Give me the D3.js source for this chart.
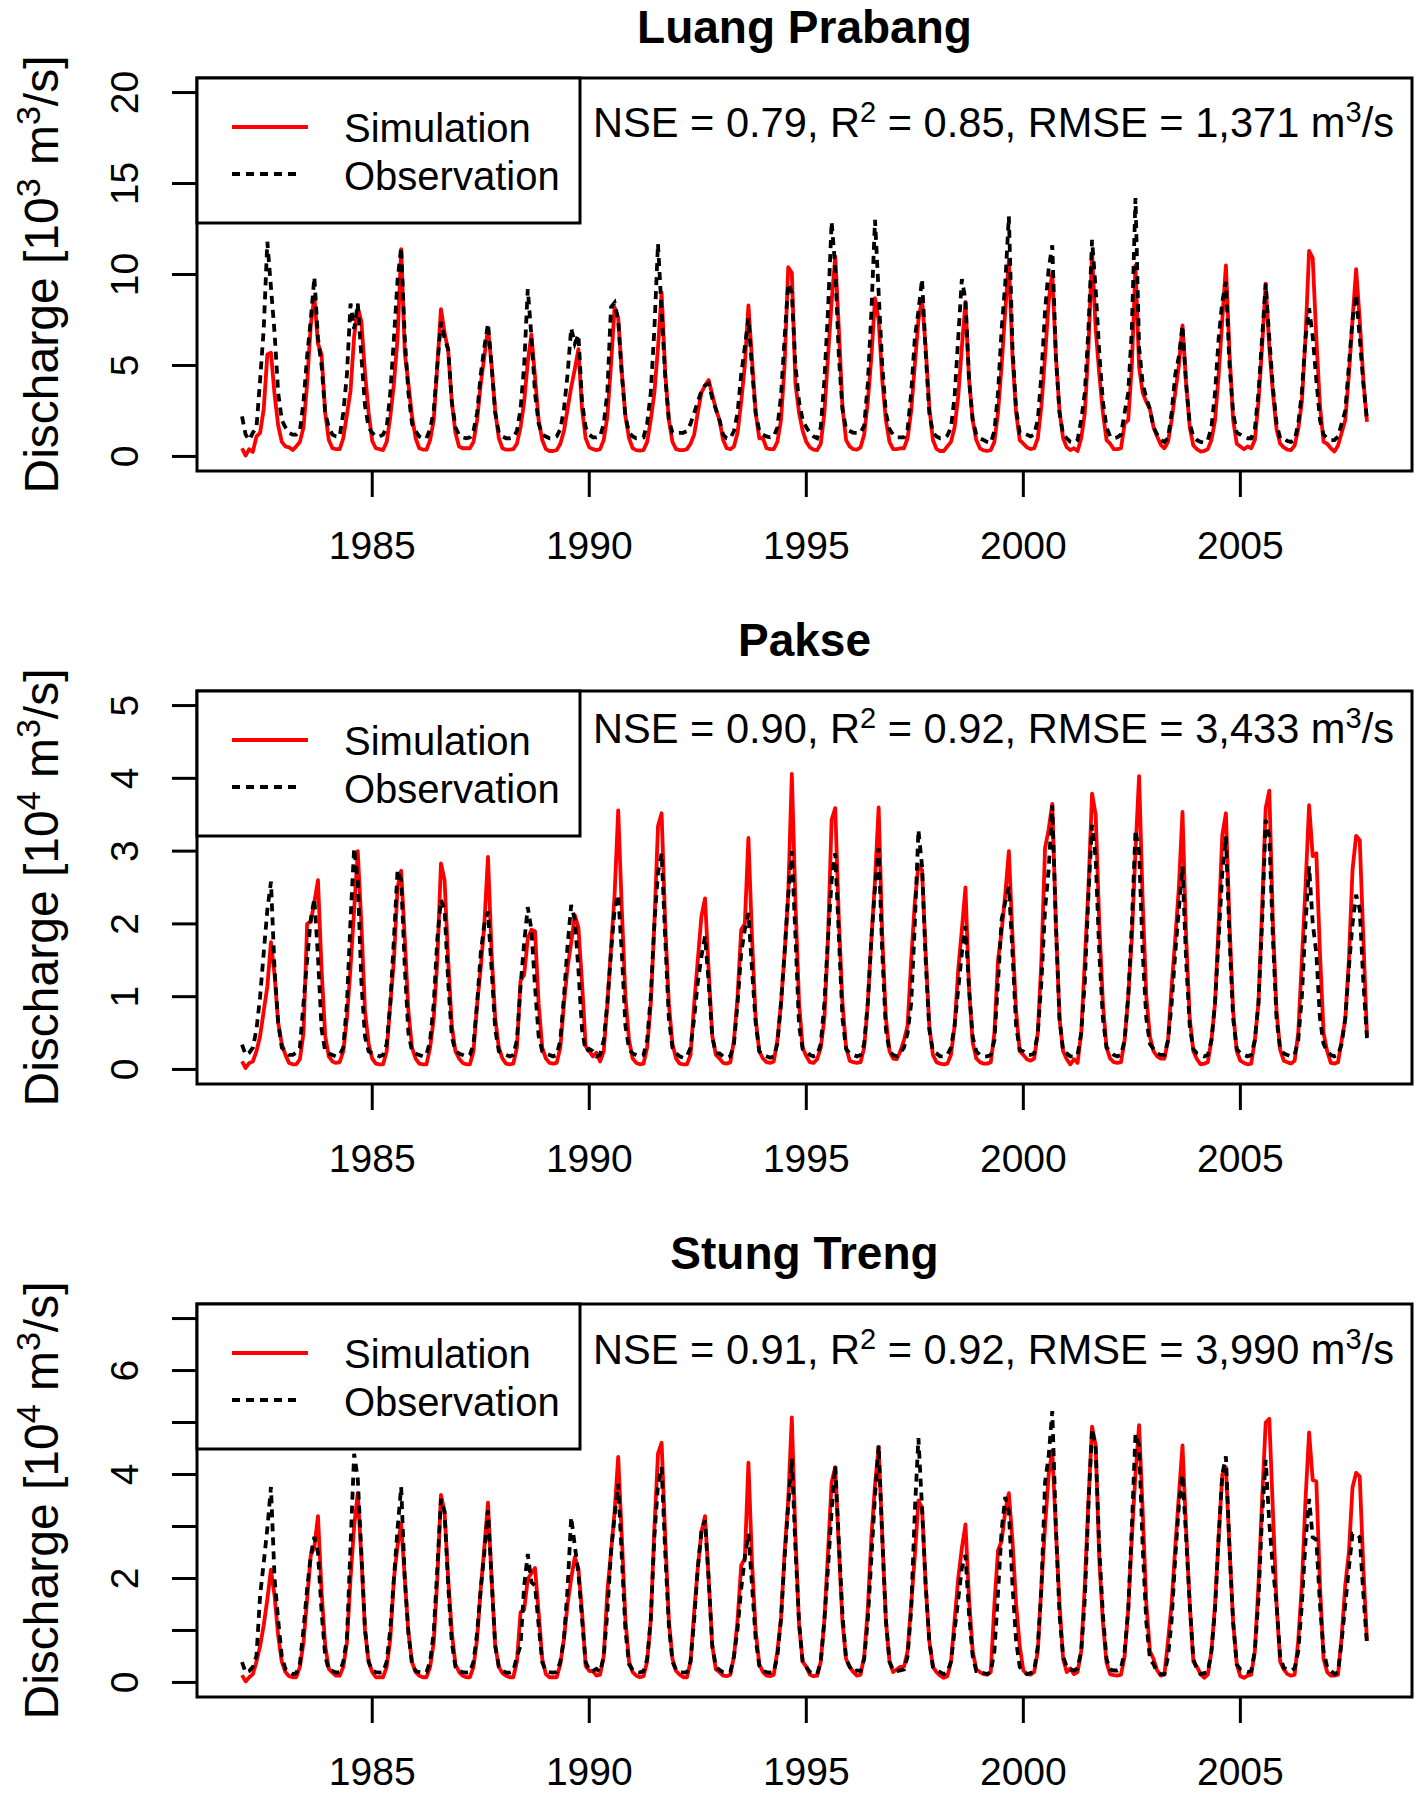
<!DOCTYPE html>
<html><head><meta charset="utf-8">
<script src="https://cdn.jsdelivr.net/npm/d3@7"></script>
<style>body{margin:0;background:#fff}</style>
</head><body>
<script>
// ---------------- DATA ----------------
const startYear = 1982; // monthly series Jan 1982 .. Dec 2007
const xTickYears = [1985, 1990, 1995, 2000, 2005];
const panelTitles = ["Luang Prabang", "Pakse", "Stung Treng"];
const unitExponents = ["3", "4", "4"];
const yTicks = [[0, 5, 10, 15, 20], [0, 1, 2, 3, 4, 5], [0, 1, 2, 3, 4, 5, 6, 7]];
const yTickLabels = [[0, 5, 10, 15, 20], [0, 1, 2, 3, 4, 5], [0, 2, 4, 6]];
const nseVals = ["0.79", "0.90", "0.91"];
const r2Vals = ["0.85", "0.92", "0.92"];
const rmseVals = ["1,371", "3,433", "3,990"];
const legendLabels = ["Simulation", "Observation"];

// Luang Prabang [10^3 m3/s], one row per year (Jan..Dec)
const lpSim = [
[0.45,0.05,0.40,0.25,1.10,1.30,2.60,5.60,5.70,3.40,1.70,0.80],
[0.55,0.50,0.35,0.55,0.80,1.60,4.00,7.20,8.80,6.20,5.60,2.40],
[0.90,0.45,0.40,0.40,1.00,2.30,3.60,6.60,8.20,7.40,4.60,2.40],
[0.85,0.45,0.40,0.35,0.80,2.20,4.00,6.50,11.40,5.70,4.00,2.20],
[1.00,0.45,0.38,0.37,0.90,2.00,5.00,8.10,6.80,5.80,3.00,1.30],
[0.55,0.45,0.45,0.45,0.80,2.00,4.00,5.50,7.05,5.00,2.50,1.00],
[0.45,0.37,0.37,0.40,0.70,1.60,3.00,5.20,6.70,4.40,2.00,0.90],
[0.40,0.30,0.30,0.35,0.70,1.40,2.60,3.80,4.80,5.90,2.60,1.00],
[0.50,0.40,0.35,0.40,0.90,2.20,5.00,8.20,7.60,4.60,2.20,1.00],
[0.45,0.35,0.32,0.35,0.80,2.00,3.50,6.00,9.00,4.60,2.00,0.80],
[0.40,0.35,0.35,0.40,0.70,1.20,2.40,3.50,3.90,4.20,3.40,2.60],
[2.00,0.90,0.45,0.40,0.55,1.30,3.00,5.00,8.30,5.30,2.40,1.00],
[1.00,0.45,0.40,0.40,0.80,2.00,5.00,10.40,10.10,4.00,2.40,1.40],
[0.80,0.50,0.38,0.35,0.70,2.40,5.50,8.50,11.00,7.00,2.70,0.90],
[0.55,0.40,0.37,0.50,1.20,3.00,5.50,8.70,7.50,4.20,2.00,0.80],
[0.40,0.40,0.45,0.45,1.00,2.50,5.00,7.50,8.65,6.00,2.70,0.90],
[0.40,0.30,0.30,0.55,0.80,1.60,3.30,6.00,8.50,4.20,2.00,0.90],
[0.45,0.33,0.30,0.35,0.80,2.40,5.00,8.00,10.80,5.50,2.40,0.90],
[0.70,0.50,0.40,0.45,1.00,2.80,5.50,8.50,10.10,5.50,2.50,1.00],
[0.50,0.35,0.45,0.30,1.00,2.40,6.00,11.20,7.00,4.50,2.40,0.90],
[0.70,0.40,0.40,0.45,1.80,2.00,5.00,10.50,4.90,3.50,3.00,2.60],
[1.60,1.10,0.64,0.45,0.80,2.00,3.50,5.00,7.20,4.00,1.60,0.60],
[0.40,0.27,0.30,0.40,0.90,2.00,4.50,7.50,10.50,5.70,2.00,0.70],
[0.55,0.40,0.55,0.45,0.90,3.00,6.00,9.50,6.00,3.50,1.50,0.70],
[0.50,0.37,0.35,0.60,1.50,3.00,6.50,11.30,10.90,6.50,2.80,0.80],
[0.70,0.45,0.27,0.60,1.30,2.00,4.50,7.50,10.30,7.50,4.20,1.90]
].flat();
const lpObs = [
[2.20,1.20,0.90,1.30,1.60,4.20,7.00,11.80,9.30,6.80,3.50,2.00],
[1.60,1.30,1.20,1.20,1.40,3.00,5.50,7.50,9.85,6.50,5.00,2.40],
[1.60,1.20,1.10,1.10,2.40,4.50,8.40,7.00,8.40,5.50,2.80,1.60],
[1.30,1.10,1.10,1.20,1.60,3.50,6.50,9.70,11.50,6.50,3.50,1.80],
[1.40,1.10,1.00,1.00,1.50,2.50,5.00,7.40,6.50,5.90,3.00,1.60],
[1.20,1.05,1.00,1.05,1.40,2.40,4.50,6.00,7.30,5.00,2.40,1.30],
[1.10,1.00,1.00,1.05,1.40,2.60,5.00,9.20,6.60,3.50,1.80,1.20],
[1.10,1.00,1.00,1.10,1.50,2.60,4.50,7.05,6.20,6.70,3.00,1.60],
[1.20,1.05,1.05,1.10,1.80,3.50,8.20,8.45,7.50,4.50,2.20,1.30],
[1.10,1.00,1.00,1.05,1.80,3.50,7.00,11.70,8.00,4.40,2.00,1.30],
[1.30,1.30,1.30,1.40,1.80,2.40,3.00,3.60,3.90,4.00,3.20,2.60],
[2.00,1.20,1.00,1.00,1.40,2.40,4.50,6.00,7.60,4.80,2.40,1.40],
[1.20,1.10,1.05,1.10,1.60,3.30,6.50,9.50,9.00,5.00,3.00,2.00],
[1.60,1.30,1.10,1.00,1.60,4.20,8.00,12.90,10.40,5.50,2.60,1.50],
[1.40,1.30,1.30,1.30,1.70,4.00,8.00,13.00,9.00,5.00,2.40,1.50],
[1.20,1.05,1.05,1.05,1.50,3.50,6.50,8.00,9.75,5.70,2.40,1.30],
[1.10,1.00,1.00,1.15,1.60,3.30,6.50,9.75,8.60,4.20,2.00,1.20],
[1.00,0.90,0.80,0.75,1.40,3.50,7.00,9.50,13.20,6.00,2.60,1.30],
[1.30,1.20,1.10,1.20,2.00,4.50,8.00,10.30,11.60,5.50,2.40,1.20],
[1.00,0.80,0.75,0.90,2.00,3.50,7.00,11.90,9.20,5.70,3.00,1.60],
[1.10,1.00,1.05,1.20,2.40,3.50,7.00,14.20,6.00,4.00,3.20,2.60],
[1.60,1.20,0.90,0.80,1.00,2.40,4.50,5.50,7.20,4.00,1.80,1.10],
[0.90,0.80,0.75,0.90,1.60,3.50,6.50,8.50,9.60,5.00,2.40,1.30],
[1.20,1.05,1.00,1.00,1.50,3.50,6.50,9.50,6.50,3.80,1.80,1.00],
[1.00,0.85,0.80,0.90,1.80,3.50,6.50,8.15,6.60,4.20,2.00,1.20],
[1.00,0.90,0.90,1.10,1.80,2.50,5.00,7.50,8.90,6.50,4.00,2.00]
].flat();

// Pakse [10^4 m3/s]
const pkSim = [
[0.11,0.02,0.09,0.11,0.25,0.46,0.80,1.14,1.75,1.30,0.64,0.35],
[0.20,0.09,0.07,0.07,0.14,0.50,2.00,2.03,2.30,2.60,1.37,0.46],
[0.18,0.11,0.09,0.10,0.25,0.70,1.40,2.20,3.00,2.00,0.80,0.35],
[0.15,0.08,0.07,0.07,0.25,0.90,1.50,2.50,2.73,1.80,0.80,0.30],
[0.15,0.08,0.07,0.07,0.30,0.70,1.50,2.83,2.60,1.50,0.60,0.25],
[0.15,0.09,0.07,0.07,0.25,0.90,1.40,2.00,2.92,1.60,0.70,0.30],
[0.15,0.08,0.07,0.08,0.30,1.22,1.30,1.80,1.92,1.90,0.90,0.30],
[0.15,0.09,0.08,0.09,0.30,0.90,1.40,1.74,2.12,1.95,1.19,0.32],
[0.25,0.18,0.23,0.11,0.25,0.90,1.65,2.40,3.56,2.20,1.00,0.40],
[0.15,0.09,0.07,0.08,0.30,0.90,2.00,3.34,3.52,2.00,0.90,0.35],
[0.15,0.08,0.07,0.07,0.20,0.90,1.50,2.10,2.35,1.37,0.46,0.20],
[0.15,0.09,0.08,0.10,0.40,1.00,1.92,2.00,3.18,1.80,0.70,0.25],
[0.15,0.10,0.09,0.11,0.40,0.90,1.60,2.40,4.06,2.30,0.91,0.30],
[0.18,0.10,0.09,0.14,0.30,0.70,1.80,3.43,3.59,2.06,0.91,0.30],
[0.12,0.10,0.09,0.10,0.30,0.91,1.80,2.60,3.60,1.83,0.70,0.25],
[0.15,0.14,0.25,0.40,0.60,1.50,2.30,2.81,2.74,1.60,0.60,0.20],
[0.10,0.08,0.07,0.08,0.20,0.60,1.37,1.92,2.50,1.10,0.37,0.15],
[0.10,0.08,0.08,0.10,0.50,1.50,1.90,2.40,3.00,1.83,0.80,0.25],
[0.20,0.14,0.12,0.15,0.50,1.50,3.04,3.30,3.65,2.00,0.70,0.25],
[0.14,0.07,0.14,0.09,0.50,1.50,2.50,3.79,3.50,2.00,0.91,0.30],
[0.15,0.10,0.09,0.10,0.40,1.00,1.80,3.00,4.03,2.30,1.00,0.45],
[0.25,0.18,0.15,0.15,0.40,1.14,1.80,2.50,3.54,1.83,0.70,0.25],
[0.14,0.07,0.08,0.10,0.40,0.91,2.00,3.22,3.52,2.00,0.80,0.25],
[0.12,0.09,0.07,0.08,0.40,0.91,2.20,3.59,3.83,2.00,0.80,0.27],
[0.12,0.10,0.08,0.12,0.50,1.50,2.50,3.63,2.93,2.97,1.60,0.50],
[0.25,0.09,0.08,0.10,0.40,0.69,1.50,2.74,3.21,3.15,1.80,0.46]
].flat();
const pkObs = [
[0.34,0.20,0.23,0.30,0.55,1.00,1.60,2.19,2.58,1.37,0.64,0.30],
[0.25,0.20,0.20,0.23,0.30,0.91,1.50,2.06,2.35,1.55,0.55,0.25],
[0.22,0.20,0.18,0.20,0.30,0.90,2.06,3.04,2.60,1.20,0.45,0.25],
[0.22,0.20,0.18,0.20,0.35,0.91,1.80,2.74,2.60,1.40,0.50,0.25],
[0.22,0.20,0.18,0.20,0.40,0.90,1.80,2.33,2.20,1.20,0.45,0.25],
[0.22,0.20,0.18,0.20,0.35,0.91,1.60,2.00,2.17,1.37,0.55,0.25],
[0.22,0.20,0.18,0.20,0.40,1.14,1.74,2.23,1.92,1.14,0.46,0.25],
[0.22,0.20,0.18,0.20,0.40,1.00,1.70,2.26,2.06,1.37,0.55,0.25],
[0.28,0.25,0.18,0.20,0.40,0.91,1.60,2.20,2.40,1.60,0.60,0.28],
[0.22,0.20,0.18,0.20,0.40,1.00,2.00,2.70,2.97,1.80,0.70,0.30],
[0.22,0.18,0.16,0.18,0.30,0.70,1.20,1.55,1.83,1.20,0.45,0.22],
[0.22,0.18,0.16,0.18,0.35,0.91,1.60,1.92,2.15,1.37,0.64,0.25],
[0.20,0.18,0.16,0.18,0.35,0.91,1.60,2.40,3.00,1.83,0.60,0.28],
[0.25,0.20,0.18,0.20,0.35,0.91,1.80,2.60,2.97,1.83,0.70,0.28],
[0.22,0.20,0.18,0.20,0.35,0.91,1.80,2.50,3.04,1.60,0.55,0.25],
[0.20,0.18,0.23,0.30,0.50,0.91,2.00,3.29,2.79,1.50,0.55,0.25],
[0.22,0.18,0.18,0.20,0.30,0.60,1.10,1.60,1.97,1.10,0.45,0.25],
[0.20,0.18,0.18,0.20,0.40,1.20,2.06,2.30,2.51,1.60,0.60,0.27],
[0.25,0.20,0.20,0.22,0.50,1.20,2.20,2.74,3.63,2.00,0.70,0.25],
[0.22,0.18,0.18,0.20,0.50,1.20,2.40,3.36,2.90,1.60,0.70,0.30],
[0.25,0.20,0.18,0.20,0.40,1.00,2.00,3.29,3.00,1.60,0.70,0.35],
[0.28,0.22,0.20,0.20,0.40,0.90,1.60,2.20,2.79,1.50,0.60,0.28],
[0.22,0.20,0.18,0.20,0.40,0.91,1.80,2.70,3.20,1.80,0.70,0.28],
[0.22,0.20,0.18,0.20,0.40,0.91,2.00,3.43,3.20,1.80,0.70,0.28],
[0.22,0.20,0.18,0.20,0.40,1.00,2.00,2.79,2.01,1.60,0.70,0.35],
[0.25,0.20,0.18,0.20,0.35,0.70,1.40,2.00,2.40,2.20,1.20,0.43]
].flat();

// Stung Treng [10^4 m3/s]
const stSim = [
[0.14,0.02,0.10,0.16,0.40,0.70,1.10,1.60,2.17,1.67,0.90,0.40],
[0.20,0.12,0.10,0.10,0.30,0.77,1.60,2.44,2.60,3.20,1.74,0.71],
[0.26,0.19,0.13,0.13,0.30,0.77,2.00,3.00,3.64,2.40,1.00,0.40],
[0.20,0.10,0.10,0.10,0.30,0.84,2.00,2.63,3.05,2.00,0.96,0.39],
[0.20,0.13,0.10,0.10,0.30,0.77,2.00,3.61,3.28,2.00,0.96,0.35],
[0.20,0.13,0.10,0.10,0.30,0.84,1.80,2.60,3.46,2.00,0.71,0.30],
[0.18,0.13,0.10,0.10,0.40,1.35,1.40,1.99,2.10,2.20,1.35,0.45],
[0.16,0.10,0.10,0.10,0.35,0.84,1.50,2.00,2.41,2.19,1.35,0.32],
[0.22,0.22,0.13,0.15,0.50,1.74,2.50,3.28,4.34,2.80,1.20,0.40],
[0.20,0.13,0.10,0.12,0.40,1.20,2.96,4.40,4.61,2.80,1.20,0.45],
[0.22,0.15,0.10,0.10,0.40,1.35,2.20,2.89,3.20,2.00,0.71,0.25],
[0.20,0.13,0.12,0.15,0.50,1.20,2.25,2.38,4.23,2.30,1.00,0.35],
[0.20,0.13,0.12,0.15,0.60,1.22,2.50,3.50,5.10,2.80,1.10,0.40],
[0.30,0.15,0.12,0.13,0.40,1.20,2.50,3.85,4.14,2.58,1.16,0.45],
[0.30,0.20,0.13,0.15,0.50,1.40,2.80,3.80,4.53,2.80,1.20,0.40],
[0.20,0.25,0.30,0.30,0.60,1.50,2.43,3.50,3.36,1.87,0.80,0.30],
[0.20,0.13,0.09,0.12,0.40,1.20,2.00,2.58,3.04,1.60,0.60,0.25],
[0.20,0.16,0.15,0.20,1.50,2.54,2.72,3.30,3.64,2.72,1.51,0.70],
[0.23,0.16,0.15,0.20,0.60,1.87,3.00,4.00,4.46,2.93,1.51,0.45],
[0.20,0.27,0.16,0.20,0.60,1.87,3.50,4.92,4.56,2.36,1.16,0.38],
[0.16,0.14,0.13,0.15,0.50,1.40,2.80,4.00,4.95,3.29,1.51,0.60],
[0.45,0.23,0.13,0.15,0.80,1.51,2.60,3.60,4.56,2.93,1.51,0.40],
[0.30,0.16,0.09,0.15,0.60,1.50,2.80,4.00,4.14,2.58,1.16,0.35],
[0.12,0.09,0.13,0.15,0.60,1.87,3.50,5.00,5.07,3.29,1.51,0.40],
[0.25,0.16,0.13,0.15,0.80,1.87,3.50,4.81,3.89,3.87,1.87,0.45],
[0.20,0.13,0.13,0.15,0.87,1.87,2.50,3.75,4.03,3.96,2.20,0.80]
].flat();
const stObs = [
[0.39,0.19,0.22,0.30,0.51,1.67,2.30,2.96,3.76,2.00,1.20,0.50],
[0.26,0.20,0.16,0.18,0.35,1.03,1.80,2.44,2.80,2.50,1.35,0.51],
[0.24,0.22,0.19,0.20,0.40,0.84,2.63,4.40,3.92,2.50,1.03,0.40],
[0.22,0.20,0.19,0.20,0.40,1.03,2.00,2.96,3.76,1.99,0.96,0.35],
[0.22,0.20,0.19,0.20,0.40,0.96,2.20,3.53,3.28,1.86,0.77,0.30],
[0.22,0.20,0.19,0.20,0.40,0.96,1.80,2.50,3.31,1.99,0.71,0.30],
[0.22,0.19,0.19,0.22,0.50,0.71,1.86,2.47,1.93,1.86,1.10,0.39],
[0.22,0.20,0.19,0.20,0.40,0.84,1.80,3.18,2.63,2.10,1.22,0.39],
[0.24,0.22,0.26,0.20,0.50,1.35,2.50,3.20,3.82,2.40,1.00,0.35],
[0.24,0.20,0.19,0.22,0.45,1.20,2.80,3.80,4.14,2.50,1.10,0.40],
[0.24,0.20,0.19,0.20,0.40,1.20,2.20,2.90,3.12,2.00,0.71,0.30],
[0.24,0.20,0.19,0.20,0.50,1.03,1.80,2.40,2.86,1.86,0.84,0.32],
[0.22,0.20,0.19,0.20,0.50,1.22,2.40,3.40,4.30,2.58,1.16,0.38],
[0.30,0.20,0.18,0.16,0.40,1.20,2.20,3.29,4.17,2.72,1.30,0.45],
[0.30,0.20,0.23,0.22,0.45,1.20,2.40,3.60,4.56,2.80,1.20,0.40],
[0.23,0.22,0.23,0.25,0.50,1.40,3.29,4.70,3.36,1.87,0.80,0.30],
[0.24,0.20,0.16,0.20,0.40,1.00,1.60,2.20,2.45,1.30,0.50,0.22],
[0.22,0.18,0.16,0.20,0.60,1.72,2.93,3.57,3.29,1.87,0.80,0.30],
[0.22,0.16,0.18,0.22,0.70,1.80,3.85,4.35,5.22,3.00,1.30,0.50],
[0.30,0.25,0.23,0.27,0.60,1.60,3.40,4.88,4.50,2.58,1.30,0.45],
[0.25,0.23,0.23,0.27,0.60,1.40,3.00,4.78,4.56,2.60,1.16,0.45],
[0.35,0.20,0.16,0.16,0.50,1.20,2.40,3.40,4.00,2.80,1.51,0.45],
[0.25,0.16,0.18,0.20,0.60,1.40,2.80,4.00,4.35,2.58,1.16,0.35],
[0.25,0.23,0.20,0.22,0.60,1.60,3.20,4.28,3.07,2.20,1.51,0.50],
[0.28,0.25,0.23,0.27,0.60,1.50,2.70,3.53,2.79,2.75,1.50,0.60],
[0.30,0.23,0.16,0.20,0.80,1.50,2.20,2.86,2.86,2.79,1.70,0.73]
].flat();

const simSeries = [lpSim, pkSim, stSim];
const obsSeries = [lpObs, pkObs, stObs];

// ---------------- LAYOUT ----------------
const W = 1418, H = 1796;
const FONT = "'Liberation Sans', Arial, Helvetica, sans-serif";
const boxL = 197, boxR = 1412, boxH = 393;
const panelTops = [78, 691, 1304];
const yDomains = [[-0.8, 20.8], [-0.2, 5.2], [-0.28, 7.28]];
const nseBaseline = [59, 52, 60];

const svg = d3.select("body").append("svg")
  .attr("width", W).attr("height", H)
  .attr("viewBox", `0 0 ${W} ${H}`)
  .style("font-family", FONT);
svg.append("rect").attr("width", W).attr("height", H).attr("fill", "#fff");

const x = d3.scaleLinear().domain([1980.963, 2008.954]).range([boxL, boxR]);

panelTitles.forEach((title, p) => {
  const top = panelTops[p], bottom = top + boxH;
  const y = d3.scaleLinear().domain(yDomains[p]).range([bottom, top]);
  const g = svg.append("g");

  const line = d3.line()
    .x((d, i) => x(startYear + i / 12))
    .y(d => y(d));

  // simulation (red solid)
  g.append("path").datum(simSeries[p])
    .attr("d", line).attr("fill", "none")
    .attr("stroke", "#ff0000").attr("stroke-width", 3.8)
    .attr("stroke-linejoin", "round");
  // observation (black dotted)
  g.append("path").datum(obsSeries[p])
    .attr("d", line).attr("fill", "none")
    .attr("stroke", "#000").attr("stroke-width", 3.8)
    .attr("stroke-dasharray", "8,6");

  // x axis ticks + labels
  const xa = g.append("g");
  xTickYears.forEach(yr => {
    xa.append("line").attr("x1", x(yr)).attr("x2", x(yr))
      .attr("y1", bottom).attr("y2", bottom + 26)
      .attr("stroke", "#000").attr("stroke-width", 3);
    xa.append("text").attr("x", x(yr)).attr("y", bottom + 88)
      .attr("text-anchor", "middle").attr("font-size", 39).text(yr);
  });

  // y axis ticks + labels
  const ya = g.append("g");
  yTicks[p].forEach(v => {
    ya.append("line").attr("x1", boxL - 25).attr("x2", boxL)
      .attr("y1", y(v)).attr("y2", y(v))
      .attr("stroke", "#000").attr("stroke-width", 3);
  });
  yTickLabels[p].forEach(v => {
    ya.append("text")
      .attr("transform", `translate(138,${y(v)}) rotate(-90)`)
      .attr("text-anchor", "middle").attr("font-size", 39).text(v);
  });

  // y axis title
  const yl = g.append("text")
    .attr("transform", `translate(58,${(top + bottom) / 2}) rotate(-90)`)
    .attr("text-anchor", "middle").attr("font-size", 48);
  yl.append("tspan").text("Discharge [10");
  yl.append("tspan").attr("font-size", 34).attr("dy", -18).text(unitExponents[p]);
  yl.append("tspan").attr("dy", 18).text(" m");
  yl.append("tspan").attr("font-size", 34).attr("dy", -18).text("3");
  yl.append("tspan").attr("dy", 18).text("/s]");

  // plot box
  g.append("rect").attr("x", boxL).attr("y", top)
    .attr("width", boxR - boxL).attr("height", boxH)
    .attr("fill", "none").attr("stroke", "#000").attr("stroke-width", 3);

  // title
  g.append("text").attr("x", (boxL + boxR) / 2).attr("y", top - 35)
    .attr("text-anchor", "middle").attr("font-size", 46)
    .attr("font-weight", "bold").text(title);

  // legend
  const lg = g.append("g");
  lg.append("rect").attr("x", boxL).attr("y", top)
    .attr("width", 580 - boxL).attr("height", 145)
    .attr("fill", "#fff").attr("stroke", "#000").attr("stroke-width", 3);
  lg.append("line").attr("x1", 232).attr("x2", 308)
    .attr("y1", top + 49).attr("y2", top + 49)
    .attr("stroke", "#ff0000").attr("stroke-width", 4);
  lg.append("line").attr("x1", 232).attr("x2", 302)
    .attr("y1", top + 96).attr("y2", top + 96)
    .attr("stroke", "#000").attr("stroke-width", 3.8)
    .attr("stroke-dasharray", "8,6");
  lg.append("text").attr("x", 344).attr("y", top + 64)
    .attr("font-size", 40).text(legendLabels[0]);
  lg.append("text").attr("x", 344).attr("y", top + 112)
    .attr("font-size", 40).text(legendLabels[1]);

  // statistics text
  const st = g.append("text").attr("x", 593).attr("y", top + nseBaseline[p])
    .attr("font-size", 41.6);
  st.append("tspan").text(`NSE = ${nseVals[p]}, R`);
  st.append("tspan").attr("font-size", 29).attr("dy", -15).text("2");
  st.append("tspan").attr("dy", 15).text(` = ${r2Vals[p]}, RMSE = ${rmseVals[p]} m`);
  st.append("tspan").attr("font-size", 29).attr("dy", -15).text("3");
  st.append("tspan").attr("dy", 15).text("/s");
});
</script>
</body></html>
